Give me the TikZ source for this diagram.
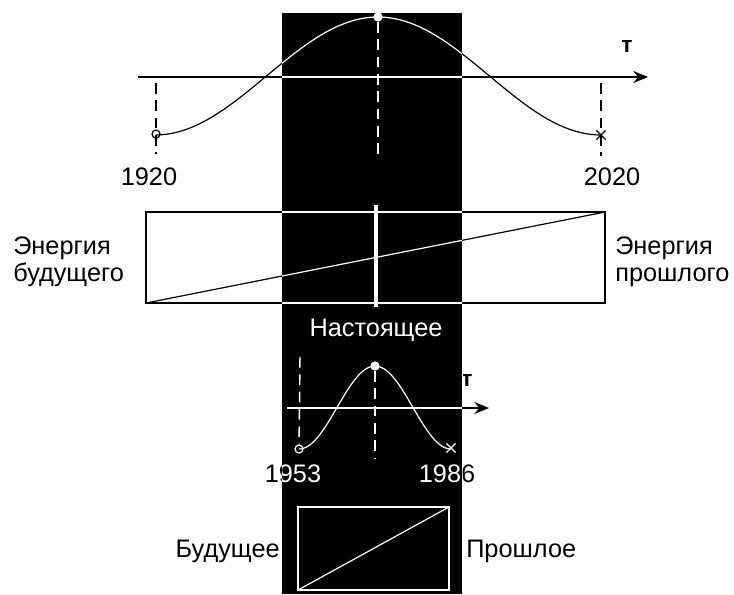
\documentclass[tikz,border=0pt]{standalone}
\usepackage{fontspec}
\setmainfont{Liberation Sans}
\usetikzlibrary{arrows.meta, shapes.misc}

% the parts that cross the dark band: drawn dark, then light inside the band
\newcommand{\timescene}[1]{%
\begin{scope}[color=#1]
% big wave
\coordinate (ta) at (138,77);
\coordinate (tb) at (648,77);
\draw[timeaxis] (ta) -- (tb);
\node[tlbl] (tau) at (627,47) {т};
\draw[wave] plot[domain=-222:223, samples=90] ({378+\x},{76-59*cos(0.8072*\x)});
\node[opendot] (old) at (156,134) {};
\node[xmark] (new) at (601,135) {};
\coordinate (ga) at (156,83);
\coordinate (gb) at (156,154);
\coordinate (gc) at (601,83);
\coordinate (gd) at (601,156);
\draw[guide] (ga) -- (gb);
\draw[guide] (gc) -- (gd);
\node[lbl] (y1920) at (149,177) {1920};
\node[lbl] (y2020) at (612,177) {2020};
% energy box
\coordinate (ea) at (146,303);
\coordinate (eb) at (605,212);
\draw[energybox] (ea) rectangle (eb);
\draw[wave] (ea) -- (eb);
% small wave
\coordinate (sa) at (287,408);
\coordinate (sb) at (489,408);
\draw[timeaxis] (sa) -- (sb);
\node[tlbl] (tau2) at (467,380) {т};
\draw[wave] plot[domain=-76:76, samples=60] ({375+\x},{407.5-41.5*cos(2.3684*\x)});
\node[opendot] (old2) at (299,449) {};
\node[xmark] (new2) at (451,448) {};
\coordinate (ha) at (300,357);
\draw[guide] (ha) -- (old2);
\node[lbl] (y1953) at (293,474) {1953};
\node[lbl] (y1986) at (447,474) {1986};
\end{scope}}

\begin{document}
\begin{tikzpicture}[
  x=0.75pt, y=-0.75pt,
  timeaxis/.style={line width=1.3pt, -{Stealth[length=11pt, width=9pt]}},
  wave/.style={line width=0.9pt},
  guide/.style={line width=1.1pt, dash pattern=on 8pt off 5pt},
  energybox/.style={line width=1.3pt},
  lbl/.style={font=\fontsize{19}{20}\selectfont, inner sep=0pt},
  tlbl/.style={font=\fontsize{17}{20}\selectfont\bfseries, inner sep=0pt},
  opendot/.style={draw, circle, line width=0.9pt, minimum size=6pt, inner sep=0pt},
  xmark/.style={draw, cross out, line width=0.9pt, minimum size=6pt, inner sep=0pt},
  peak/.style={circle, fill=white, minimum size=7pt, inner sep=0pt}
]
\useasboundingbox (0,0) rectangle (734,594);
\fill[white] (0,0) rectangle (734,594);

\timescene{black}
\node[lbl, align=left, anchor=west] (efut) at (13,262) {Энергия\\будущего};
\node[lbl, align=left, anchor=west] (epast) at (615,262) {Энергия\\прошлого};
\node[lbl, anchor=east] (fut) at (280,551) {Будущее};
\node[lbl, anchor=west] (past) at (466,551) {Прошлое};

% the present
\fill (282,13) rectangle (462,594);
\begin{scope}
\clip (282,13) rectangle (462,594);
\timescene{white}
\end{scope}

\begin{scope}[color=white]
\node[peak] (top) at (378,17) {};
\coordinate (tc) at (378,156);
\draw[guide] (top) -- (tc);
\coordinate (na) at (376,205);
\coordinate (nb) at (376,307);
\draw[line width=2.6pt] (na) -- (nb);
\node[lbl] (now) at (376,330) {Настоящее};
\node[peak] (top2) at (375,366) {};
\coordinate (hc) at (375,458);
\draw[guide] (top2) -- (hc);
\coordinate (ba) at (298,590);
\coordinate (bb) at (449,507);
\draw[energybox] (ba) rectangle (bb);
\draw[wave] (ba) -- (bb);
\end{scope}
\end{tikzpicture}
\end{document}
